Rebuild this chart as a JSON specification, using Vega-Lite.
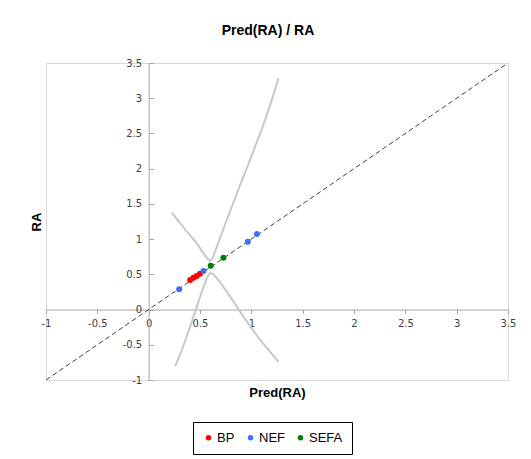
{
  "$schema": "https://vega.github.io/schema/vega-lite/v6.json",
  "width": 462,
  "height": 317,
  "autosize": "none",
  "padding": {"left": 46, "top": 63, "right": 23, "bottom": 79},
  "background": "white",
  "title": {"text": "Pred(RA) / RA", "font": "Liberation Sans", "fontSize": 14, "fontWeight": "bold", "color": "#000000", "anchor": "middle", "frame": "group", "offset": 20, "dx": -9},
  "config": {
    "view": {"stroke": "#d9d9d9", "strokeWidth": 1},
    "axis": {"grid": false, "domainColor": "#a6a6a6", "tickColor": "#a6a6a6", "labelColor": "#404040", "labelFont": "DejaVu Sans", "labelFontSize": 10, "titleFont": "Liberation Sans", "titleFontSize": 13, "titleFontWeight": "bold", "titleColor": "#000000"}
  },
  "datasets": {
    "diag": [{"x": -1, "y": -1}, {"x": 3.5, "y": 3.5}],
    "curves": [
      {"branch": "upper", "i": 1, "x": 0.226, "y": 1.376},
      {"branch": "upper", "i": 2, "x": 0.307, "y": 1.224},
      {"branch": "upper", "i": 3, "x": 0.388, "y": 1.082},
      {"branch": "upper", "i": 4, "x": 0.469, "y": 0.94},
      {"branch": "upper", "i": 5, "x": 0.534, "y": 0.798},
      {"branch": "upper", "i": 6, "x": 0.575, "y": 0.72},
      {"branch": "upper", "i": 7, "x": 0.598, "y": 0.69},
      {"branch": "upper", "i": 8, "x": 0.622, "y": 0.73},
      {"branch": "upper", "i": 9, "x": 0.664, "y": 0.893},
      {"branch": "upper", "i": 10, "x": 0.761, "y": 1.271},
      {"branch": "upper", "i": 11, "x": 0.859, "y": 1.651},
      {"branch": "upper", "i": 12, "x": 0.988, "y": 2.126},
      {"branch": "upper", "i": 13, "x": 1.112, "y": 2.6},
      {"branch": "upper", "i": 14, "x": 1.2, "y": 2.976},
      {"branch": "upper", "i": 15, "x": 1.264, "y": 3.284},
      {"branch": "lower", "i": 1, "x": 0.258, "y": -0.802},
      {"branch": "lower", "i": 2, "x": 0.323, "y": -0.575},
      {"branch": "lower", "i": 3, "x": 0.404, "y": -0.244},
      {"branch": "lower", "i": 4, "x": 0.469, "y": 0.041},
      {"branch": "lower", "i": 5, "x": 0.534, "y": 0.324},
      {"branch": "lower", "i": 6, "x": 0.57, "y": 0.46},
      {"branch": "lower", "i": 7, "x": 0.6, "y": 0.522},
      {"branch": "lower", "i": 8, "x": 0.628, "y": 0.505},
      {"branch": "lower", "i": 9, "x": 0.68, "y": 0.419},
      {"branch": "lower", "i": 10, "x": 0.794, "y": 0.183},
      {"branch": "lower", "i": 11, "x": 0.923, "y": -0.101},
      {"branch": "lower", "i": 12, "x": 1.086, "y": -0.432},
      {"branch": "lower", "i": 13, "x": 1.264, "y": -0.741}
    ],
    "pts": [
      {"series": "BP", "x": 0.404, "y": 0.419},
      {"series": "BP", "x": 0.436, "y": 0.452},
      {"series": "BP", "x": 0.469, "y": 0.478},
      {"series": "BP", "x": 0.5, "y": 0.51},
      {"series": "NEF", "x": 0.297, "y": 0.288},
      {"series": "NEF", "x": 0.534, "y": 0.548},
      {"series": "NEF", "x": 0.966, "y": 0.964},
      {"series": "NEF", "x": 1.054, "y": 1.074},
      {"series": "SEFA", "x": 0.604, "y": 0.622},
      {"series": "SEFA", "x": 0.728, "y": 0.737}
    ]
  },
  "encoding": {
    "x": {"field": "x", "type": "quantitative", "scale": {"domain": [-1, 3.5], "nice": false, "zero": false},
      "axis": {"values": [-1, -0.5, 0, 0.5, 1, 1.5, 2, 2.5, 3, 3.5], "labelExpr": "datum.value + ''", "offset": -70.44, "title": "Pred(RA)", "titleY": 77, "tickSize": 4, "labelPadding": 5, "labelFlush": false, "labelOverlap": false}},
    "y": {"field": "y", "type": "quantitative", "scale": {"domain": [-1, 3.5], "nice": false, "zero": false},
      "axis": {"values": [-1, -0.5, 0, 0.5, 1, 1.5, 2, 2.5, 3, 3.5], "labelExpr": "datum.value + ''", "offset": -102.67, "title": "RA", "titleX": -112.5, "titleBaseline": "middle", "tickSize": -5, "labelPadding": 12, "labelFlush": false, "labelOverlap": false}}
  },
  "layer": [
    {
      "data": {"name": "curves"},
      "mark": {"type": "line", "color": "#c8c8c8", "strokeWidth": 2},
      "encoding": {"detail": {"field": "branch"}, "order": {"field": "i", "type": "quantitative"}}
    },
    {
      "data": {"name": "diag"},
      "mark": {"type": "line", "color": "#404040", "strokeWidth": 1, "strokeDash": [5, 3]},
      "encoding": {}
    },
    {
      "data": {"name": "pts"},
      "mark": {"type": "point", "filled": true, "opacity": 1, "size": 36},
      "encoding": {
        "color": {"field": "series", "type": "nominal",
          "scale": {"domain": ["BP", "NEF", "SEFA"], "range": ["#ff0000", "#3e6ef5", "#008000"]},
          "legend": {"title": null, "orient": "none", "legendX": 147, "legendY": 359, "direction": "horizontal", "strokeColor": "#000000", "padding": 9, "symbolSize": 30, "symbolType": "circle", "labelFont": "Liberation Sans", "labelFontSize": 13, "labelColor": "#000000", "labelOffset": 2, "columnPadding": 9}
        }
      }
    }
  ]
}
